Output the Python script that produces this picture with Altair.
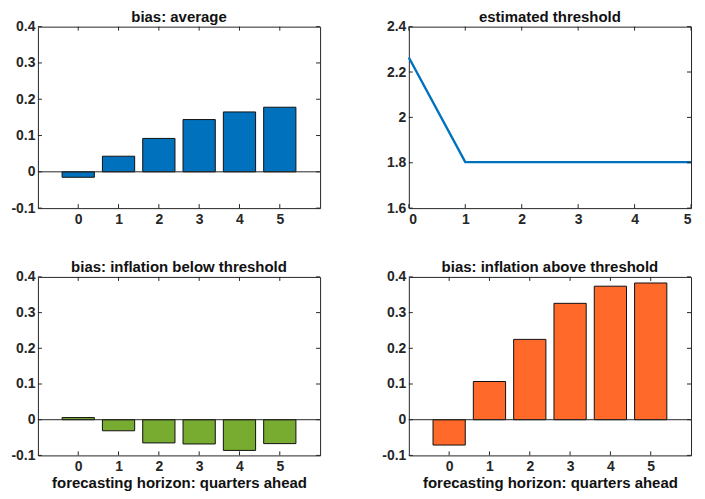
import altair as alt
import pandas as pd

# ---- data ----
horizons = [0, 1, 2, 3, 4, 5]
bias_average = [-0.015, 0.043, 0.092, 0.144, 0.165, 0.178]
bias_below = [0.006, -0.031, -0.065, -0.068, -0.086, -0.067]
bias_above = [-0.071, 0.107, 0.225, 0.326, 0.374, 0.383]
threshold = [2.264, 1.803, 1.803, 1.803, 1.803, 1.803]

bias_yticks = [-0.1, 0.0, 0.1, 0.2, 0.3, 0.4]
thr_yticks = [1.6, 1.8, 2.0, 2.2, 2.4]
xticks = [0, 1, 2, 3, 4, 5]

titles = ["bias: average", "estimated threshold",
          "bias: inflation below threshold", "bias: inflation above threshold"]
xlabel = "forecasting horizon: quarters ahead"

FONT = "Liberation Sans"
AX = "#262626"
W = 283
TICK = 4
LABEL_EXPR = "toString(round(datum.value*10)/10)"


def yaxis(vals):
    return alt.Axis(values=vals, title=None, labelExpr=LABEL_EXPR,
                    minExtent=29, maxExtent=29)


def xaxis(title=None):
    if title is None:
        return alt.Axis(values=xticks, title=None, format="d")
    return alt.Axis(values=xticks, title=title, format="d")


def tick_layers(xs, ys, xa, ya, yvals, h):
    ydf = pd.DataFrame({"t": yvals})
    xdf = pd.DataFrame({"t": xticks})
    left = alt.Chart(ydf).mark_rule(color=AX, strokeWidth=1).encode(
        y=alt.Y("t:Q", scale=ys, axis=ya), x=alt.value(0), x2=alt.value(TICK))
    right = alt.Chart(ydf).mark_rule(color=AX, strokeWidth=1).encode(
        y=alt.Y("t:Q", scale=ys, axis=ya), x=alt.value(W - TICK), x2=alt.value(W))
    top = alt.Chart(xdf).mark_rule(color=AX, strokeWidth=1).encode(
        x=alt.X("t:Q", scale=xs, axis=xa), y=alt.value(0), y2=alt.value(TICK))
    bottom = alt.Chart(xdf).mark_rule(color=AX, strokeWidth=1).encode(
        x=alt.X("t:Q", scale=xs, axis=xa), y=alt.value(h - TICK), y2=alt.value(h))
    return [left, right, top, bottom]


def bar_panel(values, color, title, h, xt=None):
    df = pd.DataFrame({"h": horizons, "v": values})
    xs = alt.Scale(domain=[-1, 6], nice=False, zero=False)
    ys = alt.Scale(domain=[-0.1, 0.4], nice=False, zero=False)
    xa = xaxis(xt)
    ya = yaxis(bias_yticks)
    bars = alt.Chart(df).transform_calculate(
        x0="datum.h - 0.4", x1="datum.h + 0.4"
    ).mark_bar(color=color, stroke="#111111", strokeWidth=1).encode(
        x=alt.X("x0:Q", scale=xs, axis=xa), x2="x1:Q",
        y=alt.Y("v:Q", scale=ys, axis=ya), y2=alt.datum(0))
    base = alt.Chart(pd.DataFrame({"z": [0.0]})).mark_rule(
        color=AX, strokeWidth=1).encode(
        y=alt.Y("z:Q", scale=ys, axis=ya), x=alt.value(0), x2=alt.value(W))
    layers = [bars] + tick_layers(xs, ys, xa, ya, bias_yticks, h) + [base]
    return alt.layer(*layers).properties(width=W, height=h, title=title)


def line_panel(values, color, title, h):
    df = pd.DataFrame({"h": horizons, "v": values})
    xs = alt.Scale(domain=[0, 5], nice=False, zero=False)
    ys = alt.Scale(domain=[1.6, 2.4], nice=False, zero=False)
    xa = xaxis(None)
    ya = yaxis(thr_yticks)
    line = alt.Chart(df).mark_line(color=color, strokeWidth=2.4).encode(
        x=alt.X("h:Q", scale=xs, axis=xa), y=alt.Y("v:Q", scale=ys, axis=ya))
    layers = [line] + tick_layers(xs, ys, xa, ya, thr_yticks, h)
    return alt.layer(*layers).properties(width=W, height=h, title=title)


p1 = bar_panel(bias_average, "#0072BD", titles[0], 182)
p2 = line_panel(threshold, "#0072BD", titles[1], 182)
p3 = bar_panel(bias_below, "#77AC30", titles[2], 179, xlabel)
p4 = bar_panel(bias_above, "#FF6929", titles[3], 179, xlabel)

chart = alt.concat(
    p1, p2, p3, p4, columns=2,
    spacing=alt.RowColnumber(row=69, column=89), bounds="flush"
).properties(
    padding=0
).configure_view(
    stroke=AX, strokeWidth=1
).configure_axis(
    domain=False, ticks=False, grid=False,
    labelFont=FONT, labelFontSize=14, labelFontWeight="bold", labelColor=AX,
    titleFont=FONT, titleFontSize=15, titleFontWeight="bold", titleColor="#111111",
    titlePadding=2
).configure_axisX(
    labelPadding=4
).configure_axisY(
    labelPadding=3
).configure_title(
    font=FONT, fontSize=15, fontWeight="bold", color="#111111", offset=-5,
    frame="group"
)

chart.save("out.html", embed_options={"renderer": "svg", "actions": False})
